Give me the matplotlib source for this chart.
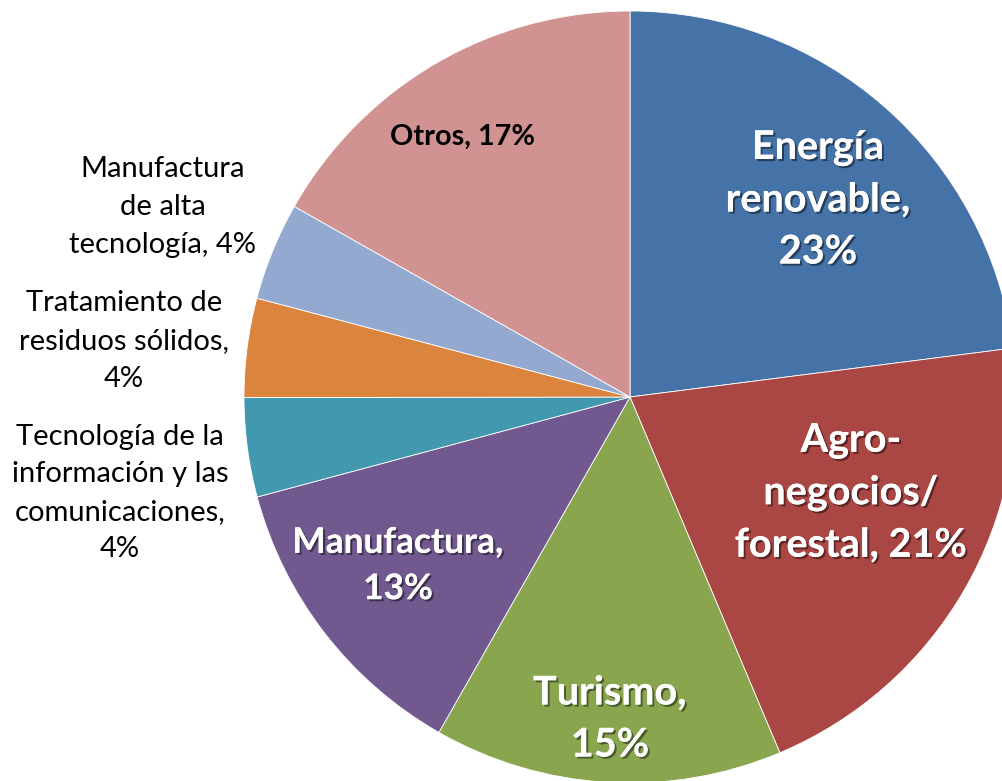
import matplotlib.pyplot as plt
import matplotlib.patheffects as pe

# sector shares (angles), and the printed labels
sectores = ["Energía renovable", "Agro-negocios/forestal", "Turismo", "Manufactura",
            "Tecnología de la información y las comunicaciones",
            "Tratamiento de residuos sólidos", "Manufactura de alta tecnología", "Otros"]
valores = [23.0, 20.7, 14.6, 12.6, 4.15, 4.15, 4.1, 16.8]
etiquetas = ["Energía\nrenovable,\n23%", "Agro-\nnegocios/\nforestal, 21%", "Turismo,\n15%",
             "Manufactura,\n13%", "Tecnología de la\ninformación y las\ncomunicaciones,\n4%",
             "Tratamiento de\nresiduos sólidos,\n4%", "Manufactura\nde alta\ntecnología, 4%",
             "Otros, 17%"]
colores = ["#4572A7", "#AA4643", "#89A54E", "#71588F", "#4198AF", "#DB843D", "#93A9CF", "#D19392"]

W, H = 1003, 781
CX, CY, R = 630, 397, 386

def px(x, y):
    return (x - CX) / R, (CY - y) / R

fig = plt.figure(figsize=(W / 100, H / 100), dpi=100)
ax = fig.add_axes([0, 0, 1, 1])
ax.pie(valores, colors=colores, startangle=90, counterclock=False, radius=1,
       wedgeprops=dict(edgecolor="white", linewidth=0.6))
ax.set_xlim(-CX / R, (W - CX) / R)
ax.set_ylim((CY - H) / R, CY / R)
ax.set_aspect("auto")
ax.axis("off")

sombra = [pe.withSimplePatchShadow(offset=(1.5, -1.5), shadow_rgbFace="black", alpha=0.45), pe.Normal()]
fuente = "Lato"

# label placement in pixel coords, style per label
pos = [(818, 200), (851, 493), (610, 719), (398, 566), (120, 493), (124, 341), (163, 207), (463, 137)]
grande = dict(color="white", fontsize=28.5, fontweight="bold", linespacing=1.5, path_effects=sombra)
chico = dict(color="black", fontsize=21, linespacing=1.55)
estilos = [
    grande, grande, grande,
    dict(color="white", fontsize=25.4, fontweight="bold", linespacing=1.55, path_effects=sombra),
    chico, chico, chico,
    dict(color="black", fontsize=20.8, fontweight="bold"),
]
for txt, (x, y), st in zip(etiquetas, pos, estilos):
    ax.text(*px(x, y), txt, ha="center", va="center", family=fuente, **st)

fig.savefig("out.png", dpi=100)
